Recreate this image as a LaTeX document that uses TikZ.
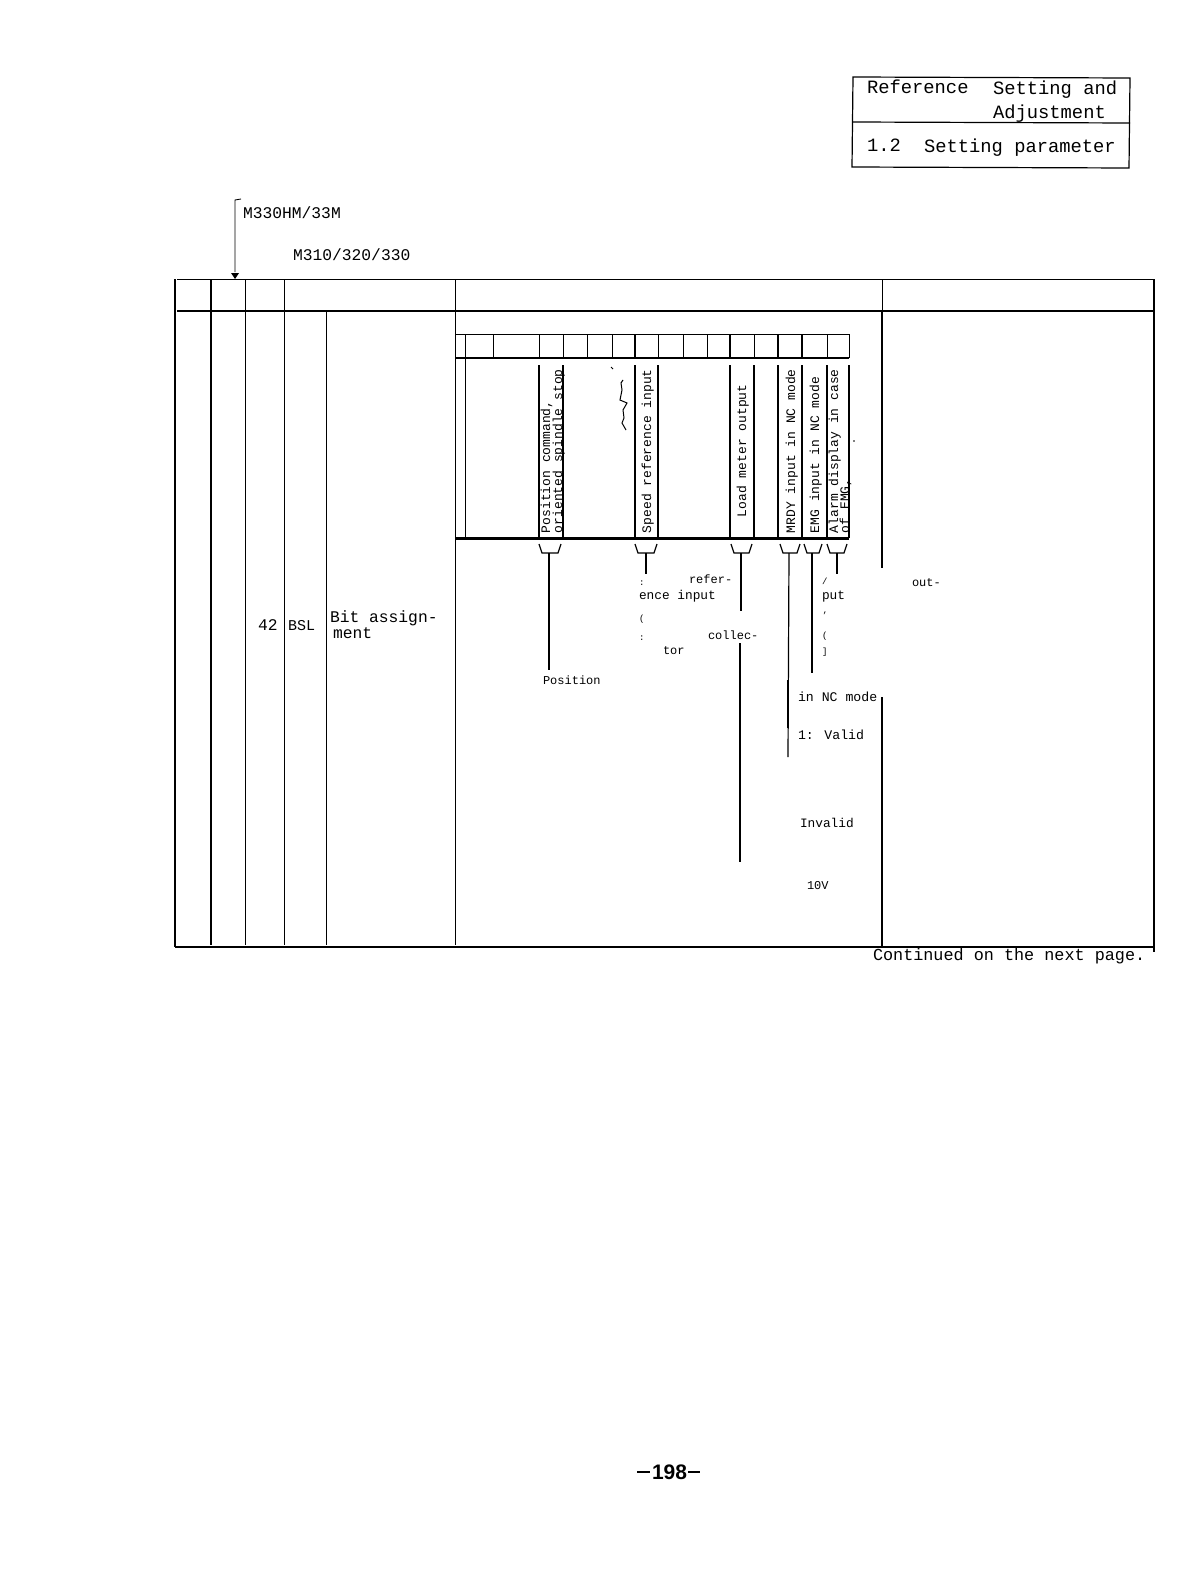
\documentclass[tikz,border=0pt]{standalone}
\usepackage{fontspec}
\setmainfont{Liberation Mono}
\newfontfamily\pagefont{Liberation Sans}
\tikzset{
  line/.style={line width=1pt,black},
  thick rule/.style={line width=2pt,black},
  heavy rule/.style={line width=3pt,black},
  txt/.style={anchor=base west,inner sep=0pt,outer sep=0pt,text=black},
  big/.style={txt,font=\fontsize{18.8}{18.8}\selectfont},
  mid/.style={txt,font=\fontsize{16.3}{16.3}\selectfont},
  small/.style={txt,font=\fontsize{12.8}{12.8}\selectfont},
  tiny label/.style={txt,font=\fontsize{12}{12}\selectfont},
  wide label/.style={txt,font=\fontsize{13.2}{13.2}\selectfont},
  vert/.style={txt,rotate=90,font=\fontsize{13}{13}\selectfont},
  speck/.style={txt,font=\fontsize{9}{9}\selectfont},
}
\begin{document}
\begin{tikzpicture}[x=1pt,y=-1pt]
\useasboundingbox (0,0) rectangle (1202,1584);
% title box
\draw[line width=1.2pt] (853,77) -- (1130,78) -- (1129,168) -- (852,167) -- cycle;
\draw[line width=1.2pt] (853,122) -- (1130,123);
\node[big] (t1) at (867,94) {Reference};
\node[big] (t2) at (993,95) {Setting and};
\node[big] (t3) at (993,119) {Adjustment};
\node[big] (t4) at (867,151) {1.2};
\node[big] (t5) at (924,152) {Setting parameter};
% model labels and arrow
\node[mid] (m1) at (243,218) {M330HM/33M};
\node[mid] (m2) at (293,260) {M310/320/330};
\coordinate (arrs) at (241,199);
\coordinate (arre) at (235,279);
\draw[line width=0.9pt] (arrs) -- (235,200) -- (235,272);
\fill (231,273) -- (239,273) -- (arre) -- cycle;
% main table
\draw[line] (177,279) -- (1154,279);
\draw[thick rule] (177,311) -- (1154,311);
\draw[thick rule] (175,279) -- (175,947);
\draw[thick rule] (211,279) -- (211,945);
\draw[line] (245,279) -- (245,945);
\draw[line] (284,279) -- (284,945);
\draw[line] (326,311) -- (326,945);
\draw[line] (455,279) -- (455,945);
\draw[line] (882,279) -- (882,311);
\draw[thick rule] (882,311) -- (882,568);
\draw[thick rule] (882,697) -- (882,947);
\draw[thick rule] (1154,279) -- (1154,952);
\draw[thick rule] (175,947) -- (1154,947);
% row labels
\node[mid] (r1) at (258,630) {42};
\node[txt,font=\fontsize{15}{15}\selectfont] (r2) at (288,630) {BSL};
\node[mid] (r3) at (330,622) {Bit assign-};
\node[mid] (r4) at (333,638) {ment};
% bit table
\draw[line] (456,334) -- (849,334);
\draw[thick rule] (456,358) -- (849,358);
\draw[heavy rule] (455,538) -- (849,538);
\draw[line] (849,334) -- (849,358);
\foreach \x in {465,493,539,563,587,612,658,683,707,754,827}
  \draw[line] (\x,334) -- (\x,358);
\foreach \x in {635,730,778,802}
  \draw[thick rule] (\x,334) -- (\x,358);
\draw[line] (465,358) -- (465,538);
\foreach \x in {539,563,635,658,730,754,778,802,827,849}
  \draw[thick rule] (\x,365) -- (\x,538);
% rotated labels
\node[vert] (b1a) at (550,533) {Position command,};
\node[vert] (b1b) at (562,533) {oriented spindle stop};
\node[vert] (b2) at (651,533) {Speed reference input};
\node[vert] (b3) at (746,517) {Load meter output};
\node[vert] (b4) at (795,533) {MRDY input in NC mode};
\node[vert] (b5) at (819,533) {EMG input in NC mode};
\node[vert] (b6a) at (838,533) {Alarm display in case};
\node[vert] (b6b) at (849,533) {of EMG,};
% brackets
\foreach \a/\b in {539/561,635/657,731/752,780/800,804/822,827/847}
  \draw[line width=1.2pt] (\a,544) -- (\a+3,553) -- (\b-3,553) -- (\b,544);
% stems
\coordinate (s1a) at (549,553); \coordinate (s1b) at (549,670);
\coordinate (s2a) at (646,553); \coordinate (s2b) at (646,574);
\coordinate (s3a) at (741,553); \coordinate (s3b) at (741,611);
\coordinate (s3c) at (740,643); \coordinate (s3d) at (740,862);
\coordinate (s4a) at (789,553); \coordinate (s4b) at (788,757);
\coordinate (s5a) at (812,553); \coordinate (s5b) at (812,673);
\coordinate (s6a) at (837,553); \coordinate (s6b) at (837,574);
\draw[line width=1.2pt] (s1a) -- (s1b);
\draw[line width=1.8pt] (s2a) -- (s2b);
\draw[line width=1.4pt] (s3a) -- (s3b);
\draw[line width=2.4pt] (s3c) -- (s3d);
\draw[line width=1.2pt] (s4a) -- (s4b);
\draw[line width=2.6pt] (788,680) -- (788,728);
\draw[line width=1.2pt] (s5a) -- (s5b);
\draw[line width=1.2pt] (s6a) -- (s6b);
% descriptions
\node[tiny label] (d1) at (689,583) {refer-};
\node[small] (d2) at (639,599) {ence input};
\node[tiny label] (d3) at (708,639) {collec-};
\node[tiny label] (d4) at (663,654) {tor};
\node[tiny label] (d5) at (543,684) {Position};
\node[small] (d6) at (822,599) {put};
\node[wide label] (d7) at (798,701) {in NC mode};
\node[wide label] (d8) at (798,739) {1: Valid};
\node[small] (d9) at (800,827) {Invalid};
\node[tiny label] (d10) at (807,889) {10V};
\node[tiny label] (d11) at (912,586) {out-};
% scan fragments
\node[speck] (f1) at (639,585) {:};
\node[speck] (f2) at (639,621) {(};
\node[speck] (f3) at (639,640) {:};
\node[speck] (f4) at (822,584) {/};
\node[speck] (f5) at (822,618) {'};
\node[speck] (f6) at (822,638) {(};
\node[speck] (f7) at (822,654) {]};
\draw[line width=1pt] (611,367) -- (613,369);
\draw[line width=1pt] (623,380) -- (621,383) -- (622,390) -- (620,400) -- (627,403) -- (623,410) -- (624,418) -- (622,423) -- (626,430);
\fill (854,441) circle (0.8);
% footer
\node[mid,font=\fontsize{16.8}{16.8}\selectfont] (cont) at (873,960) {Continued on the next page.};
\node[txt,font=\pagefont\bfseries\fontsize{21}{21}\selectfont] (pg) at (652,1479) {198};
\coordinate (pgl) at (637,1472); \coordinate (pgr) at (700,1472);
\draw[line width=1.1pt] (pgl) -- (650,1472);
\draw[line width=1.1pt] (688,1472) -- (pgr);
\end{tikzpicture}
\end{document}
